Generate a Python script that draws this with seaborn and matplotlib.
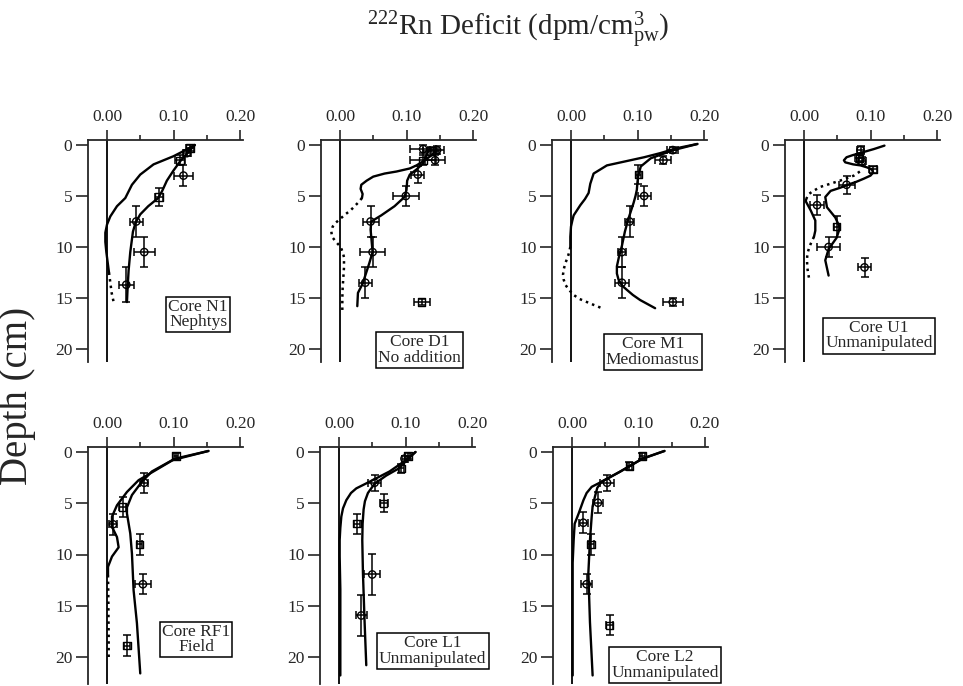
import numpy as np
import pandas as pd
import matplotlib
matplotlib.use("Agg")
import matplotlib.pyplot as plt
import seaborn as sns

# ---------------- measured 222Rn deficits (dpm/cm3 pore water) ----------------
# Core N1 (Nephtys)
n1_depth = [0.3, 0.8, 1.5, 3.0, 5.1, 7.5, 10.5, 13.7]
n1_def = [0.125, 0.12, 0.11, 0.115, 0.078, 0.044, 0.056, 0.029]
n1_xerr = [0.006, 0.006, 0.008, 0.015, 0.006, 0.01, 0.016, 0.011]
n1_yerr = [0.3, 0.3, 0.5, 1.0, 0.9, 1.5, 1.5, 1.7]
n1_kind = ["s", "o", "s", "o", "s", "o", "o", "o"]

# Core D1 (no addition)
d1_depth = [0.4, 0.6, 0.5, 1.5, 1.5, 2.9, 5.0, 7.5, 10.5, 13.5, 15.4]
d1_def = [0.125, 0.137, 0.146, 0.125, 0.143, 0.117, 0.099, 0.046, 0.049, 0.038, 0.123]
d1_xerr = [0.02, 0.012, 0.01, 0.02, 0.015, 0.01, 0.02, 0.012, 0.019, 0.01, 0.012]
d1_yerr = [0.4, 0.4, 0.4, 0.5, 0.5, 0.8, 1.0, 1.5, 1.5, 1.5, 0.3]
d1_kind = ["o", "s", "o", "s", "o", "o", "o", "o", "o", "o", "s"]

# Core M1 (Mediomastus)
m1_depth = [0.5, 1.5, 2.9, 5.0, 7.5, 10.5, 13.5, 15.4]
m1_def = [0.153, 0.139, 0.1015, 0.11, 0.088, 0.0765, 0.0765, 0.153]
m1_xerr = [0.008, 0.012, 0.004, 0.01, 0.007, 0.006, 0.01, 0.015]
m1_yerr = [0.3, 0.4, 0.9, 1.0, 1.5, 1.5, 1.5, 0.4]
m1_kind = ["o", "o", "s", "o", "o", "o", "o", "o"]

# Core U1 (unmanipulated)
u1_depth = [0.5, 1.3, 1.6, 2.4, 3.9, 5.9, 8.0, 10.0, 12.0]
u1_def = [0.085, 0.083, 0.087, 0.104, 0.064, 0.0197, 0.049, 0.037, 0.091]
u1_xerr = [0.005, 0.006, 0.006, 0.006, 0.012, 0.01, 0.004, 0.017, 0.01]
u1_yerr = [0.4, 0.4, 0.4, 0.3, 0.9, 1.0, 1.0, 1.0, 0.9]
u1_kind = ["o", "s", "o", "s", "o", "o", "s", "o", "o"]

# Core RF1 (field)
rf1_depth = [0.4, 3.0, 5.35, 7.05, 9.0, 12.9, 18.9]
rf1_def = [0.1035, 0.056, 0.0235, 0.009, 0.049, 0.054, 0.03]
rf1_xerr = [0.003, 0.006, 0.005, 0.006, 0.004, 0.012, 0.004]
rf1_yerr = [0.3, 1.0, 1.0, 1.0, 1.0, 1.0, 1.0]
rf1_kind = ["s", "o", "s", "o", "s", "o", "s"]

# Core L1 (unmanipulated)
l1_depth = [0.4, 0.65, 1.6, 3.0, 5.0, 7.0, 11.95, 15.95]
l1_def = [0.1035, 0.0985, 0.0935, 0.0535, 0.067, 0.027, 0.05, 0.0335]
l1_xerr = [0.004, 0.004, 0.004, 0.01, 0.006, 0.004, 0.012, 0.008]
l1_yerr = [0.3, 0.3, 0.4, 0.8, 0.9, 1.0, 2.0, 2.0]
l1_kind = ["s", "o", "s", "o", "s", "s", "o", "o"]

# Core L2 (unmanipulated)
l2_depth = [0.4, 1.35, 3.0, 4.95, 6.9, 9.0, 12.9, 16.9]
l2_def = [0.106, 0.086, 0.0527, 0.039, 0.017, 0.0286, 0.022, 0.0567]
l2_xerr = [0.004, 0.004, 0.01, 0.008, 0.007, 0.004, 0.008, 0.005]
l2_yerr = [0.3, 0.4, 0.8, 1.0, 1.0, 1.0, 1.0, 1.0]
l2_kind = ["s", "s", "o", "o", "o", "s", "o", "s"]

# ---------------- model profiles (depth, deficit) ----------------
# each entry: (depth list, deficit list, linestyle)
n1_fit = [
    ([0, 0.5, 1.0, 1.6, 2.5, 3.5, 4.5, 5.2, 6.0, 6.8, 7.6, 8.5, 9.5, 10.5, 12.3, 14, 15.4],
     [0.132, 0.125, 0.118, 0.11, 0.10, 0.09, 0.083, 0.077, 0.062, 0.05, 0.043, 0.039, 0.037, 0.035, 0.0325, 0.031, 0.030], "-"),
    ([0, 0.5, 1.1, 1.9, 2.9, 3.9, 5.2, 6.0, 7.0, 7.8, 8.6, 9.5, 10.5, 11.5, 12.5],
     [0.132, 0.118, 0.10, 0.07, 0.05, 0.0375, 0.0275, 0.015, 0.005, 0.0, -0.0025, -0.0025, -0.001, 0.001, 0.003], "-"),
    ([12.5, 13.5, 14.5, 15.4], [0.003, 0.005, 0.007, 0.01], ":"),
]

d1_fit = [
    ([0.3, 1.0, 1.8, 2.4, 2.9, 3.5, 4.4, 5.1, 6.0, 6.9, 7.5, 8.3, 9.0, 10.5, 11.6, 12.6, 13.6, 14.5, 15.8],
     [0.135, 0.13, 0.125, 0.115, 0.105, 0.101, 0.1, 0.097, 0.082, 0.062, 0.047, 0.046, 0.047, 0.049, 0.044, 0.039, 0.034, 0.027, 0.026], "-"),
    ([0.4, 1.0, 1.6, 2.0, 2.3, 2.6, 2.8, 3.1, 3.5, 3.9, 4.3, 4.8, 5.2],
     [0.145, 0.138, 0.125, 0.115, 0.105, 0.085, 0.067, 0.05, 0.04, 0.032, 0.031, 0.034, 0.033], "-"),
    ([5.2, 5.6, 6.0, 6.4, 6.8, 7.2, 7.6, 8.0, 8.5, 9.0, 9.5, 10.0, 10.5, 11.0, 12.0, 13.0, 14.0, 15.0, 16.2],
     [0.033, 0.028, 0.022, 0.016, 0.008, 0.001, -0.006, -0.011, -0.013, -0.012, -0.006, 0.001, 0.004, 0.006, 0.006, 0.005, 0.004, 0.0035, 0.0035], ":"),
]

m1_fit = [
    ([-0.1, 0.5, 1.3, 2.1, 2.9, 3.6, 4.4, 5.0, 5.7, 6.5, 7.3, 8.5, 9.9, 11.0, 11.9, 12.6, 13.2, 13.8, 14.2, 14.7, 15.2, 16.0],
     [0.19, 0.154, 0.12, 0.105, 0.1015, 0.1, 0.099, 0.097, 0.094, 0.09, 0.086, 0.081, 0.0765, 0.072, 0.069, 0.069, 0.0715, 0.077, 0.084, 0.093, 0.104, 0.1265], "-"),
    ([-0.1, 0.3, 0.8, 1.2, 1.5, 2.0, 2.8, 3.8, 4.7, 5.3, 5.9, 6.4, 6.9, 7.4, 8.0, 9.0, 10.0],
     [0.19, 0.16, 0.134, 0.11, 0.089, 0.054, 0.034, 0.029, 0.0265, 0.021, 0.014, 0.009, 0.004, 0.002, 0.0, -0.001, -0.001], "-"),
    ([10.0, 10.8, 11.6, 12.2, 12.7, 13.2, 13.7, 14.2, 14.7, 15.1, 15.4, 15.7, 16.0],
     [-0.001, -0.004, -0.0085, -0.011, -0.012, -0.011, -0.0085, -0.003, 0.004, 0.013, 0.024, 0.035, 0.0465], ":"),
]

u1_fit = [
    ([0.06, 0.4, 0.7, 1.0, 1.2, 1.5, 1.7, 1.9, 2.0, 2.2, 2.4, 2.7, 3.0, 3.3, 3.6, 3.9, 4.2, 4.5, 5.1, 6.1, 7.1, 8.1, 9.1, 10.2, 11.3, 12.8],
     [0.121, 0.105, 0.089, 0.073, 0.064, 0.06, 0.062, 0.074, 0.085, 0.095, 0.102, 0.104, 0.1, 0.09, 0.079, 0.066, 0.054, 0.04, 0.032, 0.0345, 0.047, 0.054, 0.049, 0.037, 0.032, 0.037], "-"),
    ([2.6, 3.0, 3.5, 4.1, 4.5, 4.8, 5.2],
     [0.084, 0.075, 0.054, 0.025, 0.014, 0.0074, 0.004], ":"),
    ([5.2, 5.5, 6.4, 7.4, 8.4, 9.0],
     [0.004, 0.0025, 0.01, 0.017, 0.017, 0.015], "-"),
    ([9.0, 9.4, 10.0, 10.7, 11.3, 12.0, 12.5, 13.0],
     [0.015, 0.012, 0.008, 0.005, 0.0045, 0.005, 0.006, 0.0074], ":"),
]

rf1_fit = [
    ([-0.1, 0.65, 1.8, 2.75, 3.9, 5.2, 6.3, 7.3, 8.3, 9.3, 10.2, 11.2, 12.0],
     [0.1525, 0.1025, 0.0725, 0.0475, 0.03, 0.015, 0.0075, 0.0075, 0.015, 0.0175, 0.0075, 0.0015, 0.0015], "-"),
    ([12.0, 14.0, 16.0, 18.0, 20.0],
     [0.0015, 0.002, 0.0022, 0.0025, 0.0025], ":"),
    ([-0.1, 0.8, 1.9, 2.9, 4.2, 5.4, 6.0, 7.95, 9.9, 13.5, 16.7, 21.6],
     [0.1525, 0.098, 0.0675, 0.0525, 0.0375, 0.03, 0.03, 0.035, 0.0375, 0.04, 0.045, 0.05], "-"),
]

l1_fit = [
    ([0, 1.0, 1.9, 2.9, 3.55, 4.0, 4.7, 5.5, 6.3, 7.4, 8.6, 10.2, 13.4, 21.8],
     [0.115, 0.096, 0.076, 0.046, 0.026, 0.018, 0.011, 0.006, 0.0035, 0.002, 0.001, 0.001, 0.002, 0.002], "-"),
    ([0, 1.0, 1.6, 2.3, 3.1, 4.0, 4.8, 5.6, 7.0, 8.6, 11.8, 16.6, 20.8],
     [0.115, 0.099, 0.09, 0.071, 0.0535, 0.0435, 0.039, 0.037, 0.0355, 0.035, 0.036, 0.0385, 0.041], "-"),
]

l2_fit = [
    ([-0.1, 0.65, 1.95, 2.75, 3.4, 4.0, 4.7, 6.0, 7.0, 8.6, 10.8, 21.8],
     [0.139, 0.106, 0.0714, 0.049, 0.0296, 0.022, 0.0172, 0.01, 0.004, 0.0025, 0.001, 0.001], "-"),
    ([-0.1, 0.65, 1.95, 2.9, 3.5, 4.35, 5.3, 6.3, 8.6, 11.8, 16.6, 21.8],
     [0.139, 0.106, 0.0714, 0.0443, 0.038, 0.0345, 0.031, 0.0296, 0.027, 0.0246, 0.027, 0.031], "-"),
]

core_labels = ["Core N1\nNephtys", "Core D1\nNo addition", "Core M1\nMediomastus",
               "Core U1\nUnmanipulated", "Core RF1\nField", "Core L1\nUnmanipulated",
               "Core L2\nUnmanipulated"]

x_ticks = [0.00, 0.10, 0.20]
x_ticklabels = ["0.00", "0.10", "0.20"]
y_ticks = [0, 5, 10, 15, 20]

# ---------------- style ----------------
sns.set_style("ticks")
plt.rcParams["font.family"] = ["Liberation Serif", "DejaVu Serif"]
plt.rcParams["mathtext.fontset"] = "custom"
plt.rcParams["mathtext.rm"] = "Liberation Serif"
plt.rcParams["mathtext.it"] = "Liberation Serif:italic"
plt.rcParams["axes.linewidth"] = 1.3

W, H = 963, 686
fig = plt.figure(figsize=(W / 100, H / 100), dpi=100)

XMIN, XMAX = -0.029, 0.205
PX_PER_X = 665.0

# pixel anchors: x position of the 0.00 tick, y of depth 0, px per cm, depth limit
panel_layout = [
    (107, 145, 10.2, 21.3), (340, 145, 10.2, 21.3), (571, 145, 10.2, 21.3), (804, 145, 10.2, 21.3),
    (107, 452, 10.25, 22.6), (339, 452, 10.25, 22.6), (572, 452, 10.25, 22.6),
]
label_pos = [(0.137, 16.6), (0.120, 20.1), (0.123, 20.3), (0.113, 18.7),
             (0.134, 18.3), (0.141, 19.4), (0.140, 20.8)]

cores = [
    (n1_depth, n1_def, n1_xerr, n1_yerr, n1_kind, n1_fit),
    (d1_depth, d1_def, d1_xerr, d1_yerr, d1_kind, d1_fit),
    (m1_depth, m1_def, m1_xerr, m1_yerr, m1_kind, m1_fit),
    (u1_depth, u1_def, u1_xerr, u1_yerr, u1_kind, u1_fit),
    (rf1_depth, rf1_def, rf1_xerr, rf1_yerr, rf1_kind, rf1_fit),
    (l1_depth, l1_def, l1_xerr, l1_yerr, l1_kind, l1_fit),
    (l2_depth, l2_def, l2_xerr, l2_yerr, l2_kind, l2_fit),
]

for (x0, y0, ppc, dmax), (dep, val, xe, ye, kind, fits), lab, lp in zip(
        panel_layout, cores, core_labels, label_pos):
    left_px = x0 + XMIN * PX_PER_X
    width_px = (XMAX - XMIN) * PX_PER_X
    top_px = y0 - 0.5 * ppc
    bot_px = y0 + dmax * ppc
    ax = fig.add_axes([left_px / W, 1 - bot_px / H, width_px / W, (bot_px - top_px) / H])

    ax.axvline(0, color="black", lw=1.3, zorder=1)

    for fd, fx, ls in fits:
        sns.lineplot(x=fx, y=fd, sort=False, estimator=None, color="black",
                     lw=1.7 if ls == "-" else 1.8, linestyle=ls, ax=ax, zorder=2)

    ax.errorbar(val, dep, xerr=xe, yerr=ye, fmt="none", ecolor="black",
                elinewidth=1.1, capsize=2.6, capthick=1.1, zorder=3)
    df = pd.DataFrame({"deficit": val, "depth": dep, "kind": kind})
    sns.scatterplot(data=df, x="deficit", y="depth", style="kind",
                    markers={"o": "o", "s": "s"}, s=28, facecolor="none",
                    edgecolor="black", linewidth=1.0, legend=False, ax=ax, zorder=4)

    ax.text(lp[0], lp[1], lab, ha="center", va="center", fontsize=12.5,
            linespacing=0.95, zorder=6,
            bbox=dict(boxstyle="square,pad=0.12", fc="white", ec="black", lw=1.1))

    ax.set_xlim(XMIN, XMAX)
    ax.set_ylim(dmax, -0.5)
    ax.set_xlabel("")
    ax.set_ylabel("")
    ax.xaxis.tick_top()
    ax.set_xticks(x_ticks)
    ax.set_xticklabels(x_ticklabels)
    ax.set_xticks([0.05, 0.15], minor=True)
    ax.set_yticks(y_ticks)
    ax.tick_params(axis="x", which="major", direction="out", length=7, width=1.2,
                   labelsize=12.5, pad=4, top=True, bottom=False)
    ax.tick_params(axis="x", which="minor", direction="out", length=3.5, width=1.2,
                   top=True, bottom=False)
    ax.tick_params(axis="y", which="major", direction="out", length=9, width=1.2,
                   labelsize=12.5, pad=2)
    for side in ("right", "bottom"):
        ax.spines[side].set_visible(False)
    ax.set_facecolor("none")

fig.text(518 / W, 1 - 36 / H, r"$^{222}$Rn Deficit (dpm/cm$^{3}_{\mathrm{pw}}$)",
         ha="center", va="baseline", fontsize=21)
fig.text(18 / W, 1 - 396 / H, "Depth (cm)", rotation=90, ha="center", va="center",
         fontsize=28)

fig.savefig("out.png", dpi=100, facecolor="white")
